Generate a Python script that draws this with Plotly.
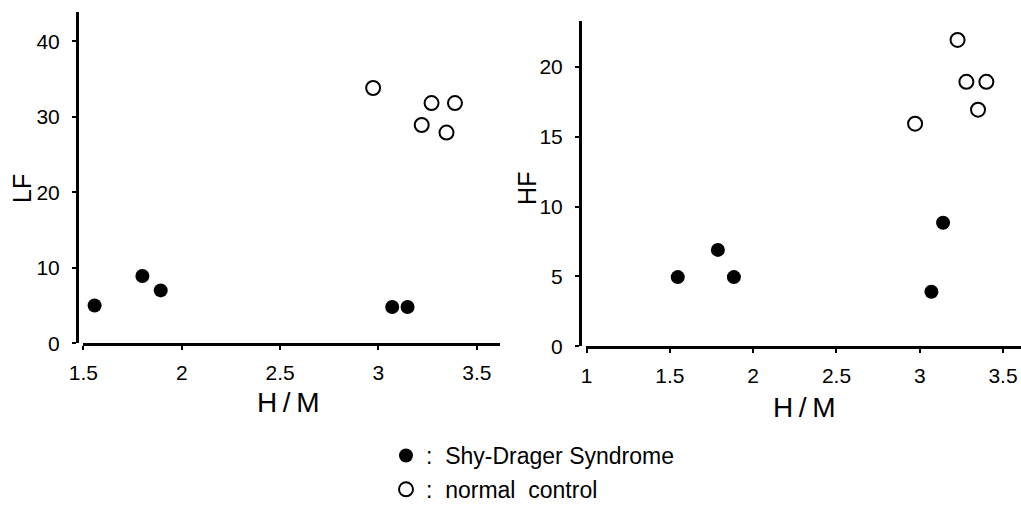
import plotly.graph_objects as go

# Left panel: LF vs H/M
lf_sds_x = [1.557, 1.80, 1.893, 3.07, 3.148]
lf_sds_y = [5.0, 8.9, 7.0, 4.8, 4.8]
lf_nc_x = [2.973, 3.22, 3.27, 3.346, 3.389]
lf_nc_y = [33.8, 28.9, 31.8, 27.9, 31.8]

# Right panel: HF vs H/M
hf_sds_x = [1.547, 1.788, 1.884, 3.07, 3.14]
hf_sds_y = [4.95, 6.9, 4.95, 3.9, 8.85]
hf_nc_x = [2.972, 3.227, 3.28, 3.40, 3.35]
hf_nc_y = [15.95, 21.95, 18.95, 18.95, 16.95]

left_xticks = [1.5, 2, 2.5, 3, 3.5]
left_yticks = [0, 10, 20, 30, 40]
right_xticks = [1, 1.5, 2, 2.5, 3, 3.5]
right_yticks = [0, 5, 10, 15, 20]

W, H = 1021, 511
FONT = "Liberation Sans"

filled = dict(symbol="circle", size=14, color="black", line=dict(width=0))
hollow = dict(symbol="circle-open", size=14, color="black", line=dict(width=2, color="black"))

fig = go.Figure()
fig.add_trace(go.Scatter(x=lf_sds_x, y=lf_sds_y, mode="markers", marker=filled, legendgroup="a",
                         name=":\u00a0\u00a0Shy-Drager Syndrome", xaxis="x", yaxis="y", showlegend=True))
fig.add_trace(go.Scatter(x=lf_nc_x, y=lf_nc_y, mode="markers", marker=hollow, legendgroup="b",
                         name=":\u00a0\u00a0normal\u00a0\u00a0control", xaxis="x", yaxis="y", showlegend=True))
fig.add_trace(go.Scatter(x=hf_sds_x, y=hf_sds_y, mode="markers", marker=filled,
                         xaxis="x2", yaxis="y2", showlegend=False))
fig.add_trace(go.Scatter(x=hf_nc_x, y=hf_nc_y, mode="markers", marker=hollow,
                         xaxis="x2", yaxis="y2", showlegend=False))

axis_common = dict(showgrid=False, zeroline=False, showline=True, linecolor="black", linewidth=3,
                   ticks="outside", ticklen=4, tickwidth=2, tickcolor="black", automargin=False,
                   tickfont=dict(family=FONT, size=21, color="black"), fixedrange=True)

def px_x(p):
    return p / W

def px_y(p):
    return 1 - p / H

def title_ann(text, x, y, angle=0, size=24):
    return dict(text=text, x=px_x(x), y=px_y(y), xref="paper", yref="paper", showarrow=False,
                xanchor="center", yanchor="middle", textangle=angle,
                font=dict(family=FONT, size=size, color="black"))

fig.update_layout(
    template="none",
    width=W, height=H,
    margin=dict(l=0, r=0, t=0, b=0, pad=0),
    paper_bgcolor="white", plot_bgcolor="white",
    font=dict(family=FONT, color="black", size=20),
    xaxis=dict(domain=[px_x(83), px_x(500)], range=[1.498, 3.618], anchor="y",
               tickvals=left_xticks, ticktext=[str(v) for v in left_xticks],
               ticklabelstandoff=5, **axis_common),
    yaxis=dict(domain=[px_y(358), px_y(13)], range=[0, 43.8], anchor="free", position=px_x(77),
               tickvals=left_yticks, ticklabelstandoff=8, **axis_common),
    xaxis2=dict(domain=[px_x(586), 1.0], range=[0.996, 3.608], anchor="y2",
                tickvals=right_xticks, ticktext=[str(v) for v in right_xticks],
                ticklabelstandoff=5, **axis_common),
    yaxis2=dict(domain=[px_y(361), px_y(22)], range=[0, 23.3], anchor="free", position=px_x(580),
                tickvals=right_yticks, ticklabelstandoff=8, **axis_common),
    showlegend=True,
    legend=dict(x=px_x(386), y=px_y(453), xanchor="left", yanchor="top",
                font=dict(family=FONT, size=23, color="black"),
                itemsizing="trace", bgcolor="rgba(0,0,0,0)", tracegroupgap=1),
    annotations=[
        title_ann("LF", 22, 197, angle=-90, size=25),
        title_ann("HF", 527, 197, angle=-90, size=25),
        title_ann("H\u2009/\u2009M", 288, 420, size=28),
        title_ann("H\u2009/\u2009M", 804, 425, size=28),
    ],
)

fig.write_html(
    "out.html",
    config={"displayModeBar": False},
    post_script="document.body.style.margin='0';document.body.style.overflow='hidden';",
)
